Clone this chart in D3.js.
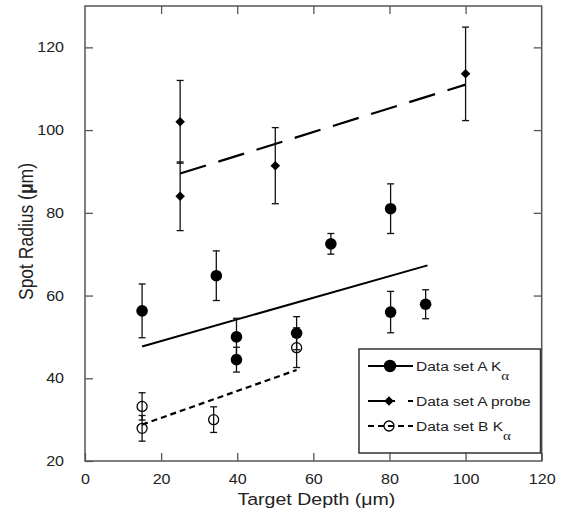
<!DOCTYPE html>
<html>
<head>
<meta charset="utf-8">
<script src="https://cdn.jsdelivr.net/npm/d3@7"></script>
<style>
  body { margin: 0; background: #fff; }
  text { font-family: "Liberation Sans", Arial, sans-serif; fill: #222; }
</style>
</head>
<body>
<div id="chart"></div>
<script>
'use strict'

// data set A K-alpha (filled circles)
const aDepth  = [15, 34.5, 39.8, 39.8, 55.6, 64.6, 80.3, 80.3, 89.5]
const aRadius = [56.3, 64.8, 50, 44.5, 50.9, 72.5, 56, 81, 57.9]
const aErr    = [6.5, 6, 4.5, 3, 4, 2.5, 5, 6, 3.5]

// data set A probe (diamonds)
const pDepth  = [25, 25, 50, 100]
const pRadius = [102, 84, 91.4, 113.6]
const pErr    = [10, 8.3, 9.2, 11.3]

// data set B K-alpha (open circles)
const bDepth  = [15, 15, 33.8, 55.6]
const bRadius = [33.2, 27.9, 30, 47.4]
const bErr    = [3.3, 3.1, 3.1, 4.8]

// linear fits, start and end
const fitA     = [[15, 47.7], [90, 67.3]]
const fitProbe = [[25, 89.5], [100, 111]]
const fitB     = [[15, 28.8], [55.6, 42]]

const xTicks = [0, 20, 40, 60, 80, 100, 120]
const yTicks = [20, 40, 60, 80, 100, 120]

////////////////////////////////////
//////////// svg setup /////////////
////////////////////////////////////

const svgWidth = 561, svgHeight = 513
const margin = { left: 85, right: 19.3, top: 6, bottom: 52 }
const width = svgWidth - margin.left - margin.right
const height = svgHeight - margin.top - margin.bottom

// the source picture is a bit wider than tall, text gets stretched to match
const sx = 1.15

const root = d3.select('#chart').append('svg')
    .attr('width', svgWidth)
    .attr('height', svgHeight)

const svg = root.append('g')
    .attr('transform', `translate(${margin.left},${margin.top})`)

const xScale = d3.scaleLinear().domain([0, 120]).range([0, width])
const yScale = d3.scaleLinear().domain([20, 130]).range([height, 0])

const zip = (xs, ys, es) => xs.map((x, i) => ({ x: x, y: ys[i], e: es[i] }))
const setA = zip(aDepth, aRadius, aErr)
const setP = zip(pDepth, pRadius, pErr)
const setB = zip(bDepth, bRadius, bErr)

const frameColor = '#555'
const tickLen = 8

////////////////////////////////////
/////////////// axes ///////////////
////////////////////////////////////

function styleAxis(g) {
    g.select('.domain').remove()
    g.selectAll('.tick line').attr('stroke', frameColor).attr('stroke-width', 1.3)
    g.selectAll('.tick text')
        .attr('fill', '#222')
        .attr('transform', `scale(${sx},1)`)
        .style('font-size', '14px')
        .style('font-family', '"Liberation Sans", Arial, sans-serif')
}

svg.append('g')
    .attr('transform', `translate(0,${height})`)
    .call(d3.axisBottom(xScale).tickValues(xTicks).tickSizeInner(-tickLen).tickSizeOuter(0).tickPadding(13))
    .call(styleAxis)

svg.append('g')
    .call(d3.axisTop(xScale).tickValues(xTicks.slice(1, -1)).tickSizeInner(-tickLen).tickSizeOuter(0).tickFormat(''))
    .call(styleAxis)

svg.append('g')
    .call(d3.axisLeft(yScale).tickValues(yTicks).tickSizeInner(-tickLen).tickSizeOuter(0).tickPadding(13.5 / sx + 6.5))
    .call(styleAxis)

svg.append('g')
    .attr('transform', `translate(${width},0)`)
    .call(d3.axisRight(yScale).tickValues(yTicks.slice(1)).tickSizeInner(-tickLen).tickSizeOuter(0).tickFormat(''))
    .call(styleAxis)

svg.append('rect')
    .attr('width', width)
    .attr('height', height)
    .attr('fill', 'none')
    .attr('stroke', frameColor)
    .attr('stroke-width', 1.5)

// axis titles
const xTitle = svg.append('text')
    .attr('transform', `translate(${width / 2 + 3},${height + 44}) scale(${sx},1)`)
    .attr('text-anchor', 'middle')
    .style('font-size', '17px')
xTitle.append('tspan').text('Target Depth (')
xTitle.append('tspan').text('\u03bc')
xTitle.append('tspan').text('m)')

const yTitle = svg.append('text')
    .attr('transform', `translate(${-52},${height / 2 - 2}) scale(${sx},1) rotate(-90)`)
    .attr('text-anchor', 'middle')
    .style('font-size', '17.5px')
yTitle.append('tspan').text('Spot Radius (')
yTitle.append('tspan').text('\u03bc').style('font-weight', 'bold')
yTitle.append('tspan').text('m)')

////////////////////////////////////
//////////// fit lines /////////////
////////////////////////////////////

const line = d3.line().x(d => xScale(d[0])).y(d => yScale(d[1]))

svg.append('path').datum(fitA).attr('d', line)
    .attr('fill', 'none').attr('stroke', '#000').attr('stroke-width', 2)
svg.append('path').datum(fitProbe).attr('d', line)
    .attr('fill', 'none').attr('stroke', '#000').attr('stroke-width', 2.2)
    .attr('stroke-dasharray', '27,13')
svg.append('path').datum(fitB).attr('d', line)
    .attr('fill', 'none').attr('stroke', '#000').attr('stroke-width', 2.2)
    .attr('stroke-dasharray', '6,4')

////////////////////////////////////
/////////// error bars /////////////
////////////////////////////////////

function errorBars(data) {
    const g = svg.append('g').attr('stroke', '#111').attr('stroke-width', 1.3)
    data.forEach(d => {
        const cx = xScale(d.x)
        g.append('line').attr('x1', cx).attr('x2', cx)
            .attr('y1', yScale(d.y - d.e)).attr('y2', yScale(d.y + d.e))
        ;[d.y - d.e, d.y + d.e].forEach(v => {
            g.append('line').attr('x1', cx - 3.5).attr('x2', cx + 3.5)
                .attr('y1', yScale(v)).attr('y2', yScale(v))
        })
    })
}
errorBars(setA)
errorBars(setP)
errorBars(setB)

////////////////////////////////////
///////////// markers //////////////
////////////////////////////////////

const diamond = d3.symbol().type(d3.symbolDiamond2).size(58)

svg.selectAll('.ptA')
    .data(setA)
    .join('circle')
    .attr('class', 'ptA')
    .attr('cx', d => xScale(d.x))
    .attr('cy', d => yScale(d.y))
    .attr('r', 5.8)
    .attr('fill', '#000')

svg.selectAll('.ptP')
    .data(setP)
    .join('path')
    .attr('class', 'ptP')
    .attr('d', diamond)
    .attr('transform', d => `translate(${xScale(d.x)},${yScale(d.y)})`)
    .attr('fill', '#000')

svg.selectAll('.ptB')
    .data(setB)
    .join('circle')
    .attr('class', 'ptB')
    .attr('cx', d => xScale(d.x))
    .attr('cy', d => yScale(d.y))
    .attr('r', 5)
    .attr('fill', 'none')
    .attr('stroke', '#000')
    .attr('stroke-width', 1.3)

////////////////////////////////////
////////////// legend //////////////
////////////////////////////////////

const legend = root.append('g').attr('transform', 'translate(359,349)')

legend.append('rect')
    .attr('width', 181.5)
    .attr('height', 104)
    .attr('fill', '#fff')
    .attr('stroke', '#333')
    .attr('stroke-width', 1.5)

const legendRows = [
    { label: 'Data set A K', sub: '\u03b1', y: 17, dash: null, mark: 'filled' },
    { label: 'Data set A probe', sub: null, y: 52, dash: '27,13', mark: 'diamond' },
    { label: 'Data set B K', sub: '\u03b1', y: 77, dash: '6,4', mark: 'open' }
]

legendRows.forEach(r => {
    const g = legend.append('g').attr('transform', `translate(0,${r.y})`)
    g.append('line')
        .attr('x1', 9).attr('x2', 54)
        .attr('stroke', '#000').attr('stroke-width', 2)
        .attr('stroke-dasharray', r.dash)
    if (r.mark === 'filled') {
        g.append('circle').attr('cx', 31).attr('r', 6.2).attr('fill', '#000')
    } else if (r.mark === 'diamond') {
        g.append('path').attr('d', diamond).attr('transform', 'translate(30,0)').attr('fill', '#000')
    } else {
        g.append('circle').attr('cx', 30).attr('r', 5)
            .attr('fill', 'none').attr('stroke', '#000').attr('stroke-width', 1.3)
    }
    const t = g.append('text')
        .attr('transform', `translate(57,5) scale(${sx},1)`)
        .style('font-size', '13.5px')
        .text(r.label)
    if (r.sub) {
        t.append('tspan')
            .attr('dy', 9)
            .style('font-family', '"Liberation Serif", "Times New Roman", serif')
            .style('font-size', '13px')
            .text(r.sub)
    }
})
</script>
</body>
</html>
